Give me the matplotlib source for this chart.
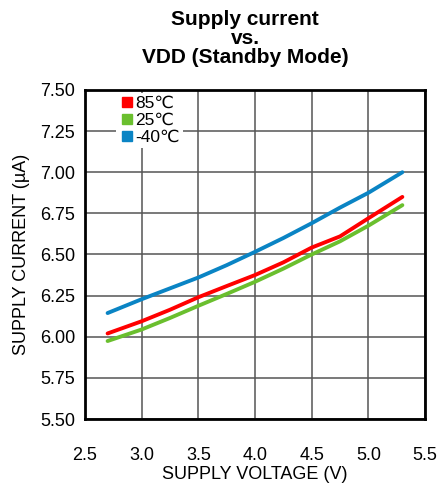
import matplotlib
matplotlib.use('Agg')
import matplotlib.pyplot as plt
from matplotlib.lines import Line2D

plt.rcParams['font.family'] = ['Liberation Sans', 'DejaVu Sans']

## Data
vdd = [2.7, 3.0, 3.25, 3.5, 3.75, 4.0, 4.25, 4.5, 4.75, 5.0, 5.3]
i_85 = [6.02, 6.094, 6.164, 6.24, 6.308, 6.375, 6.452, 6.542, 6.61, 6.72, 6.85]
i_25 = [5.974, 6.044, 6.114, 6.188, 6.26, 6.334, 6.414, 6.50, 6.58, 6.675, 6.80]
i_m40 = [6.144, 6.228, 6.294, 6.36, 6.435, 6.516, 6.60, 6.69, 6.785, 6.875, 7.00]

labels = ['85\u2103', '25\u2103', '-40\u2103']
colors = ['#ff0000', '#6abf2e', '#0a84c4']
xticks = [2.5, 3.0, 3.5, 4.0, 4.5, 5.0, 5.5]
yticks = [5.50, 5.75, 6.00, 6.25, 6.50, 6.75, 7.00, 7.25, 7.50]

fig = plt.figure(figsize=(4.4, 4.83), dpi=100)
ax = fig.add_axes([0.193, 0.1325, 0.773, 0.6812])

for ys, c in zip([i_85, i_25, i_m40], colors):
    ax.plot(vdd, ys, color=c, linewidth=2.8, solid_capstyle='round')

ax.set_xlim(2.5, 5.5)
ax.set_ylim(5.5, 7.5)
ax.set_xticks(xticks)
ax.set_xticklabels(['%.1f' % x for x in xticks], fontsize=13)
ax.set_yticks(yticks)
ax.set_yticklabels(['%.2f' % y for y in yticks], fontsize=13)
ax.tick_params(axis='x', length=0, pad=20)
ax.tick_params(axis='y', length=0, pad=7)
ax.grid(True, color='#555555', linewidth=1.1)
ax.set_axisbelow(True)
for s in ax.spines.values():
    s.set_linewidth(2)
    s.set_color('black')

ax.set_xlabel('SUPPLY VOLTAGE (V)', fontsize=13, labelpad=1.5)
ax.set_ylabel('SUPPLY CURRENT (\u00b5A)', fontsize=13, labelpad=7)
fig.text(0.557, 0.98, 'Supply current\nvs.\nVDD (Standby Mode)', fontsize=15,
         fontweight='bold', linespacing=1.02, ha='center', va='top')

handles = [Line2D([], [], marker='s', linestyle='none', color=c, markersize=7)
           for c in colors]
leg = ax.legend(handles, labels, loc='upper left', bbox_to_anchor=(0.08, 1.0),
                frameon=True, fontsize=12.5, handletextpad=0.0, labelspacing=0.1,
                borderpad=0.15, borderaxespad=0.2, handlelength=1.0)
leg.get_frame().set_edgecolor('none')
leg.get_frame().set_facecolor('white')
leg.get_frame().set_alpha(1)

fig.savefig('out.png', dpi=100)
